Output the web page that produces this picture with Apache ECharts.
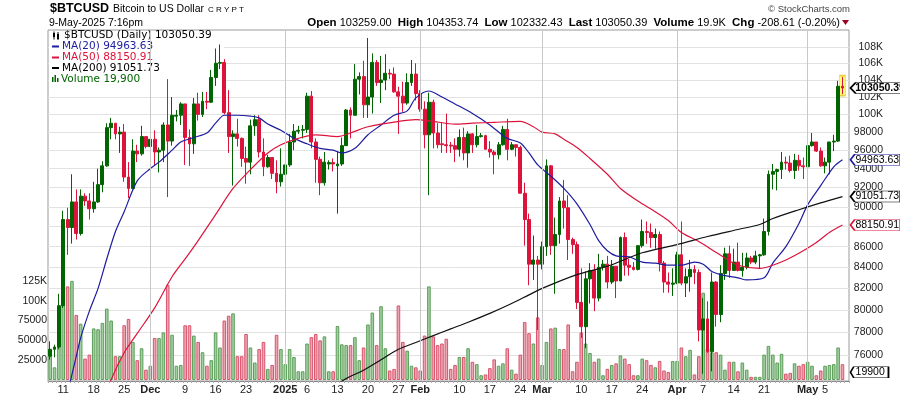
<!DOCTYPE html>
<html><head><meta charset="utf-8">
<script src="https://cdn.jsdelivr.net/npm/echarts@6.0.0/dist/echarts.min.js"></script>
<style>html,body{margin:0;padding:0;background:#fff}#c{width:900px;height:396px}</style>
</head><body><div id="c"></div>
<script>
// ---- daily OHLC (USD), 8-Nov-2024 .. 9-May-2025 ----
const firstDay = '2024-11-08';
const open = [
75900,76500,76700,80400,88700,87900,90500,87300,91100,90600,89800,90500,92300,94300,98500,99000,97800,98000,93100,91900,95900,95600,97500,
96400,97200,95800,96000,98800,97000,99800,99900,101200,97400,96700,101200,100000,101500,101400,104300,106000,106100,100200,97500,97800,97300,95100,94700,98700,99400,95800,94200,95200,93500,92600,
93400,94400,96900,98100,98200,98300,102100,96900,95000,92500,94500,94650,94300,94500,96500,100500,99900,104100,104400,101100,102000,106100,103700,104000,104800,104700,102600,102100,101300,103700,104700,
102400,100600,97700,101400,97900,96700,96600,96550,96500,96100,97400,95700,97800,96600,97500,97600,96100,95800,95500,96600,98300,96100,96600,96300,91400,88700,84300,84700,
84300,86000,94300,86100,87200,90600,89900,86700,86200,80700,78500,82900,83700,81100,84000,84300,82600,84100,82700,86900,84200,84000,83800,86100,87500,87400,86900,87200,84400,82600,82400,
82500,85200,82500,83100,83800,83500,78200,79200,76300,82600,79600,83400,85300,83700,84500,83700,84000,84900,84500,85100,85200,87500,93400,93700,93900,94700,94600,93800,94900,94300,
94200,96500,96900,95900,94300,94700,96900,97000,103259.00];
const high = [
77200,76900,81500,89600,89900,93400,91800,91800,91400,91400,92600,94000,94800,99000,99600,99000,98600,98900,94700,97200,96600,98700,97500,
97900,98200,96300,99100,104100,102000,100500,101400,101200,98300,101900,102500,102600,102600,105200,107800,108300,106500,102800,98200,99500,97400,96400,99400,99900,99900,97300,95500,95200,94900,96200,
94900,97800,98900,98700,98800,102500,102700,97300,95300,95800,94900,95100,95900,97400,100600,100800,105900,104900,106300,109100,107200,106400,106900,107100,105300,105500,103200,103800,104800,106400,106000,
102800,101500,102500,101700,99000,99100,100100,96900,97300,98300,98500,98100,97900,98800,97900,97700,97000,96000,96900,98700,99500,96900,96600,96500,92500,89300,87100,85100,
86500,95000,94400,88900,91000,92800,91200,86900,86500,83900,83600,84400,84300,85300,84700,85100,84700,84100,87000,87400,84800,84500,86100,88700,88500,88300,87800,87500,84600,83500,83900,
85500,88500,83900,84700,84200,83800,81100,80800,83500,82700,84200,85900,86100,85800,86400,85400,85400,85100,85600,85300,88800,93800,94500,94000,95800,95300,95400,95600,95500,95200,
97400,97900,96900,96300,95200,96900,97700,103900,104353.74];
const low = [
75600,75800,76500,80200,85200,86300,86700,87100,90100,88700,89400,90400,91500,94200,97200,97200,95700,92600,90900,91800,94700,95400,96200,
95700,94400,93600,94700,91000,96500,99200,98800,94400,94300,95600,99300,99700,100600,101300,103300,105300,100000,95700,92200,96400,94200,92400,93400,97600,95200,93200,94100,92900,91400,92100,
92800,94200,96000,97800,97300,97900,96200,92500,91200,92200,93900,93700,89300,94300,96500,97300,99900,102300,99600,99600,100100,103300,101300,102800,104100,102500,97800,100300,101100,103300,101600,
100300,96200,91200,96200,96200,95700,95700,95700,94700,95300,94900,94100,95700,96300,97400,96100,95200,93400,95000,96500,94900,96000,95300,91400,86100,82300,82800,78200,
83800,85100,85200,81500,86300,87800,84700,85300,80100,77500,76600,80600,79900,80800,83700,82000,82400,81100,82700,83200,83200,83700,83700,85900,86300,85900,85800,83600,81600,81600,81300,
82400,82300,81200,81700,82400,77200,74400,76200,74600,78500,78900,82800,83000,83700,83600,83100,83800,84300,84300,83900,85100,87100,91800,91700,92900,93900,93600,92900,93800,92900,
94100,96400,95800,94200,93500,93400,95900,96900,102332.43];
const close = [
76500,76700,80400,88700,87900,90500,87300,91100,90600,89800,90500,92300,94300,98500,99000,97800,98000,93100,91900,95900,95600,97500,96400,
97200,95800,96000,98800,97000,99900,99900,101200,97400,96700,101200,100000,101500,101400,104300,106000,106100,100200,97500,97800,97300,95100,94700,98700,99400,95800,94200,95200,93500,92600,93400,
94400,96900,98100,98200,98300,102100,96900,95000,92500,94700,94650,94500,94500,96500,100500,99900,104100,104400,101100,102000,106100,103700,104000,104800,104700,102600,102100,101300,103700,104700,102400,
100600,97700,101400,97900,96600,96600,96500,96450,96100,97400,95700,97800,96600,97500,97600,96100,95800,95500,96600,98300,96100,96600,96300,91400,88700,84300,84700,84300,
86000,94300,86100,87200,90600,89900,86700,86200,80700,78500,82900,83700,81100,84000,84300,82600,84100,82700,86900,84200,84000,83800,86100,87500,87400,86900,87200,84400,82600,82400,82500,
85200,82500,83100,83800,83500,78200,79200,76300,82600,79600,83400,85300,83700,84500,83700,84000,84900,84500,85100,85200,87500,93400,93700,93900,94700,94600,93800,94900,94300,94200,
96500,96900,95900,94300,94700,96900,97000,103259,103050.39];
const volume = [
30000,16000,45000,95000,118000,125000,82000,71000,27000,32000,65000,64000,72000,90000,75000,30000,30000,69000,77000,48000,25000,40000,13000,
18000,53000,53000,60000,120000,57000,18000,19000,69000,69000,56000,48000,35000,18000,25000,60000,41000,75000,81000,84000,30000,30000,58000,41000,22000,39000,48000,14000,19000,57000,39000,
20000,39000,29000,11000,11000,46000,54000,58000,50000,55000,11000,11000,68000,45000,44000,44000,54000,25000,41000,70000,85000,44000,93000,40000,12000,14000,94000,48000,37000,18000,16000,
12000,56000,118000,55000,44000,46000,52000,14000,19000,29000,29000,40000,23000,20000,6000,7000,15000,26000,18000,21000,40000,13000,8000,32000,73000,59000,46000,79000,
19000,48000,65000,66000,39000,39000,70000,11000,23000,60000,46000,34000,23000,27000,6000,14000,19000,21000,31000,27000,20000,6000,6000,27000,25000,19000,16000,24000,12000,10000,24000,
24000,41000,30000,38000,7000,30000,110000,40000,35000,35000,32000,13000,23000,23000,11000,22000,13000,4000,4000,4000,32000,43000,32000,22000,33000,8000,9000,21000,18000,20000,
23000,18000,6000,12000,18000,19000,20000,41000,19900];

// ---- moving averages ----
const ma20 = [['2024-11-12',72800],['2024-11-14',75900],['2024-11-15',77500],['2024-11-17',79900],['2024-11-19',82000],['2024-11-21',84800],['2024-11-23',87500],['2024-11-25',89500],['2024-11-28',92700],['2024-12-01',94000],['2024-12-03',94700],['2024-12-06',96000],['2024-12-08',96900],['2024-12-11',97400],['2024-12-14',97900],['2024-12-16',99000],['2024-12-18',99900],['2024-12-21',99900],['2024-12-24',99800],['2024-12-26',99600],['2024-12-28',98900],['2024-12-31',98200],['2025-01-03',97300],['2025-01-06',96700],['2025-01-09',96200],['2025-01-12',96000],['2025-01-14',95700],['2025-01-17',96200],['2025-01-20',97700],['2025-01-23',98800],['2025-01-26',99900],['2025-01-29',100400],['2025-01-31',101900],['2025-02-03',102700],['2025-02-06',102000],['2025-02-09',101200],['2025-02-13',100100],['2025-02-17',98800],['2025-02-21',97300],['2025-02-24',96800],['2025-02-26',95700],['2025-02-28',94400],['2025-03-03',93200],['2025-03-06',91900],['2025-03-09',90300],['2025-03-12',88200],['2025-03-14',86600],['2025-03-16',85600],['2025-03-18',85100],['2025-03-21',85000],['2025-03-24',84500],['2025-03-27',84400],['2025-03-30',84200],['2025-04-02',84200],['2025-04-05',84500],['2025-04-07',84300],['2025-04-09',83600],['2025-04-12',83200],['2025-04-15',83000],['2025-04-17',82800],['2025-04-21',83000],['2025-04-23',84400],['2025-04-26',86000],['2025-04-29',88300],['2025-05-01',90200],['2025-05-04',92200],['2025-05-07',94200],['2025-05-09',94963.63]];
const ma50 = [['2024-11-21',72600],['2024-11-22',73900],['2024-11-25',76200],['2024-11-28',77900],['2024-12-02',80200],['2024-12-06',83100],['2024-12-09',84800],['2024-12-12',86600],['2024-12-16',89200],['2024-12-20',91900],['2024-12-24',93900],['2024-12-28',95700],['2024-12-31',96600],['2025-01-04',97300],['2025-01-08',97700],['2025-01-13',97500],['2025-01-16',97900],['2025-01-20',98600],['2025-01-27',99200],['2025-01-31',99400],['2025-02-04',99200],['2025-02-09',98900],['2025-02-13',99000],['2025-02-18',99100],['2025-02-24',99200],['2025-02-27',98600],['2025-03-01',98000],['2025-03-04',97800],['2025-03-06',97200],['2025-03-09',96300],['2025-03-12',95100],['2025-03-16',93400],['2025-03-19',91900],['2025-03-23',90600],['2025-03-27',89500],['2025-03-30',88600],['2025-04-02',87400],['2025-04-06',86500],['2025-04-09',85700],['2025-04-12',84900],['2025-04-15',84200],['2025-04-20',83900],['2025-04-23',84200],['2025-04-26',84700],['2025-04-30',85600],['2025-05-03',86400],['2025-05-06',87400],['2025-05-09',88150.91]];
const ma200 = [['2025-01-13',73500],['2025-01-15',74000],['2025-01-19',74700],['2025-01-23',75600],['2025-01-27',76500],['2025-01-31',77100],['2025-02-04',77700],['2025-02-08',78300],['2025-02-12',78900],['2025-02-17',79700],['2025-02-22',80600],['2025-02-26',81400],['2025-03-01',82000],['2025-03-09',83300],['2025-03-16',84100],['2025-03-24',85400],['2025-04-01',86200],['2025-04-08',87000],['2025-04-15',87700],['2025-04-20',88200],['2025-04-23',88800],['2025-04-29',89700],['2025-05-04',90400],['2025-05-09',91051.73]];

// ---- axis ticks ----
const priceTicks = [76000,78000,80000,82000,84000,86000,88000,90000,92000,94000,96000,98000,100000,102000,104000,106000,108000];
const volumeTicks = [25000,50000,75000,100000,125000];
const xTickDates = ['2024-11-11','2024-11-18','2024-11-25','2024-12-01','2024-12-09','2024-12-16','2024-12-23','2025-01-01','2025-01-06','2025-01-13','2025-01-20','2025-01-27','2025-02-01','2025-02-10','2025-02-17','2025-02-24','2025-03-01','2025-03-10','2025-03-17','2025-03-24','2025-04-01','2025-04-07','2025-04-14','2025-04-21','2025-05-01','2025-05-05'];
const xTickLabels = ['11','18','25','Dec','9','16','23','2025','6','13','20','27','Feb','10','17','24','Mar','10','17','24','Apr','7','14','21','May','5'];
const monthLines = ['2024-12-01','2025-01-01','2025-02-01','2025-03-01','2025-04-01','2025-05-01'];

// ---- build ----
const dates = [];
{ const t0 = Date.parse(firstDay + 'T00:00:00Z');
  for (let i = 0; i < close.length; i++) dates.push(new Date(t0 + i * 86400000).toISOString().slice(0, 10)); }
const xData = dates.concat(['']);
const last = dates[dates.length - 1];
const tickMap = new Map(xTickDates.map((d, i) => [d, xTickLabels[i]]));

const GREEN = '#006400', RED = '#dc143c', BLUE = '#1c1ca0';
const FONT = '"Liberation Sans", Arial, sans-serif';
const upVol = { color: '#a2cf9f', borderColor: '#5c9e5a', borderWidth: 1 };
const dnVol = { color: '#eba7b1', borderColor: '#d9536d', borderWidth: 1 };

const pointer = 'path://M0,6L6,0L70,0L70,12L6,12Z';
function tag(coord, text, border, w, bold, dy) {
  return {
    coord: coord, value: text,
    symbol: pointer, symbolSize: [w, 11], symbolKeepAspect: false,
    symbolOffset: [w / 2 + 8, dy || 0],
    itemStyle: { color: '#fff', borderColor: border, borderWidth: 1 },
    label: { show: true, position: 'insideLeft', distance: 6, formatter: text,
      color: '#000', fontFamily: FONT, fontSize: 10.5, fontWeight: bold ? 'bold' : 'normal' }
  };
}

const chart = echarts.init(document.getElementById('c'), null, { renderer: 'canvas', width: 900, height: 396 });
const option = {
  animation: false,
  backgroundColor: '#fff',
  grid: [
    { left: 48, right: 51, top: 30, bottom: 15, show: true, borderColor: '#9a9a9a', borderWidth: 1 },
    { left: 48, right: 51, top: 261, bottom: 16 }
  ],
  xAxis: [
    { type: 'category', gridIndex: 0, data: xData, boundaryGap: true,
      axisLine: { show: true, lineStyle: { color: '#888' } },
      axisTick: { show: true, interval: 0, length: 2, lineStyle: { color: '#aaa' } },
      axisLabel: { interval: (i, v) => tickMap.has(v), margin: 3, color: '#222', fontFamily: FONT, fontSize: 11,
        formatter: v => { const s = tickMap.get(v) || ''; return isNaN(+s) || s === '2025' ? '{b|' + s + '}' : s; },
        rich: { b: { fontWeight: 'bold', fontFamily: FONT, fontSize: 11, color: '#222' } } },
      splitLine: { show: false } },
    { type: 'category', gridIndex: 1, data: xData, boundaryGap: true, show: false }
  ],
  yAxis: [
    { type: 'log', gridIndex: 0, position: 'right', min: 73785, max: 110100, logBase: 10,
      axisLine: { show: false }, axisTick: { show: false, customValues: priceTicks },
      axisLabel: { customValues: priceTicks, margin: 34, align: 'right', color: '#222', fontFamily: FONT, fontSize: 10.5,
        formatter: v => v >= 100000 ? Math.round(v / 1000) + 'K' : String(Math.round(v)) },
      splitLine: { show: true, lineStyle: { color: '#e2e2e2' } } },
    { type: 'value', gridIndex: 1, position: 'left', min: 0, max: 150000,
      axisLine: { show: false }, axisTick: { show: false }, splitLine: { show: false },
      axisLabel: { customValues: volumeTicks, margin: 1, color: '#222', fontFamily: FONT, fontSize: 10.5,
        formatter: v => v >= 100000 ? (v / 1000) + 'K' : String(v) } }
  ],
  series: [
    { name: 'Volume', type: 'bar', xAxisIndex: 1, yAxisIndex: 1, barWidth: '82%', z: 1,
      data: dates.map((d, i) => ({ value: volume[i], itemStyle: close[i] >= open[i] ? upVol : dnVol })),
      markPoint: { silent: true, data: [tag([last, volume[volume.length - 1]], '19900', '#000', 38, false, 8)] } },
    { name: 'grid', type: 'line', xAxisIndex: 0, yAxisIndex: 0, data: [], z: 1,
      markLine: { silent: true, symbol: 'none', label: { show: false },
        lineStyle: { color: '#c9c9c9', type: 'solid', width: 1 },
        data: monthLines.map(d => ({ xAxis: d })) } },
    { name: '$BTCUSD', type: 'candlestick', xAxisIndex: 0, yAxisIndex: 0, barWidth: '78%', z: 3,
      data: dates.map((d, i) => [open[i], close[i], low[i], high[i]]),
      itemStyle: { color: GREEN, color0: RED, borderColor: GREEN, borderColor0: RED, borderWidth: 1 },
      markPoint: { silent: true, z: 1, data: [
        { coord: [last, (high[high.length - 1] + low[low.length - 1]) / 2], symbol: 'rect', symbolSize: [6, 20],
          itemStyle: { color: '#ffff70', borderColor: '#e8d040', borderWidth: 1 }, label: { show: false } },
        tag([last, close[close.length - 1]], '103050.39', '#000', 62, true, 0)
      ] } },
    { name: 'MA(20)', type: 'line', data: ma20, showSymbol: false, smooth: 0.3, connectNulls: true, z: 4,
      lineStyle: { color: BLUE, width: 1.2 },
      markPoint: { silent: true, data: [tag([last, 94963.63], '94963.63', '#1c1ca0', 50, false, 0)] } },
    { name: 'MA(50)', type: 'line', data: ma50, showSymbol: false, smooth: 0.3, connectNulls: true, z: 4,
      lineStyle: { color: RED, width: 1.2 },
      markPoint: { silent: true, data: [tag([last, 88150.91], '88150.91', RED, 50, false, 0)] } },
    { name: 'MA(200)', type: 'line', data: ma200, showSymbol: false, smooth: 0.3, connectNulls: true, z: 4,
      lineStyle: { color: '#111', width: 1.2 },
      markPoint: { silent: true, data: [tag([last, 91051.73], '91051.73', '#000', 50, false, 0)] } }
  ],
  graphic: [
    { type: 'text', x: 50, y: 9, style: { text: '$BTCUSD', font: 'bold 12.5px ' + FONT, fill: '#000', verticalAlign: 'middle' } },
    { type: 'text', x: 113, y: 9.5, style: { text: 'Bitcoin to US Dollar', font: '10.5px ' + FONT, fill: '#000', verticalAlign: 'middle' } },
    { type: 'text', x: 208, y: 9.5, style: { text: 'C R Y P T', font: '8px ' + FONT, fill: '#000', verticalAlign: 'middle' } },
    { type: 'text', x: 49, y: 23, style: { text: '9-May-2025 7:16pm', font: '10.5px ' + FONT, fill: '#000', verticalAlign: 'middle' } },
    { type: 'text', x: 850, y: 9, style: { text: '© StockCharts.com', font: '9.5px ' + FONT, fill: '#444', align: 'right', verticalAlign: 'middle' } },
    { type: 'text', x: 840, y: 23, style: {
        text: '{b|Open} 103259.00  {b|High} 104353.74  {b|Low} 102332.43  {b|Last} 103050.39  {b|Volume} 19.9K  {b|Chg} -208.61 (-0.20%)',
        font: '11px ' + FONT, fill: '#000', align: 'right', verticalAlign: 'middle',
        rich: { b: { font: 'bold 11.5px ' + FONT, fill: '#000' } } } },
    { type: 'polygon', shape: { points: [[842, 20], [849, 20], [845.5, 25]] }, style: { fill: '#a00020' } },
    // legend
    { type: 'rect', shape: { x: 49, y: 31, width: 175, height: 54 }, style: { fill: '#fff' }, z: 1 },
    { type: 'rect', shape: { x: 53, y: 33, width: 2, height: 4 }, style: { fill: '#000' }, z: 2 },
    { type: 'rect', shape: { x: 53.5, y: 31.5, width: 1, height: 8 }, style: { fill: '#000' }, z: 2 },
    { type: 'rect', shape: { x: 57, y: 34, width: 2, height: 5 }, style: { fill: '#000' }, z: 2 },
    { type: 'rect', shape: { x: 57.5, y: 32, width: 1, height: 8 }, style: { fill: '#000' }, z: 2 },
    { type: 'text', x: 64, y: 35.5, z: 2, style: { text: '$BTCUSD (Daily) 103050.39', font: '10.5px "DejaVu Sans", Verdana, sans-serif', fill: '#000', verticalAlign: 'middle' } },
    { type: 'rect', shape: { x: 52, y: 45.5, width: 7, height: 2 }, style: { fill: BLUE }, z: 2 },
    { type: 'text', x: 62, y: 46.5, z: 2, style: { text: 'MA(20) 94963.63', font: '10.5px "DejaVu Sans", Verdana, sans-serif', fill: BLUE, verticalAlign: 'middle' } },
    { type: 'rect', shape: { x: 52, y: 56.5, width: 7, height: 2 }, style: { fill: RED }, z: 2 },
    { type: 'text', x: 62, y: 57.5, z: 2, style: { text: 'MA(50) 88150.91', font: '10.5px "DejaVu Sans", Verdana, sans-serif', fill: RED, verticalAlign: 'middle' } },
    { type: 'rect', shape: { x: 52, y: 67, width: 7, height: 2 }, style: { fill: '#000' }, z: 2 },
    { type: 'text', x: 62, y: 68, z: 2, style: { text: 'MA(200) 91051.73', font: '10.5px "DejaVu Sans", Verdana, sans-serif', fill: '#000', verticalAlign: 'middle' } },
    { type: 'rect', shape: { x: 52, y: 77, width: 1.5, height: 5 }, style: { fill: GREEN }, z: 2 },
    { type: 'rect', shape: { x: 54.5, y: 75, width: 1.5, height: 7 }, style: { fill: GREEN }, z: 2 },
    { type: 'rect', shape: { x: 57, y: 78, width: 1.5, height: 4 }, style: { fill: GREEN }, z: 2 },
    { type: 'text', x: 61, y: 79, z: 2, style: { text: 'Volume 19,900', font: '10.5px "DejaVu Sans", Verdana, sans-serif', fill: GREEN, verticalAlign: 'middle' } }
  ]
};
chart.setOption(option);
</script></body></html>
